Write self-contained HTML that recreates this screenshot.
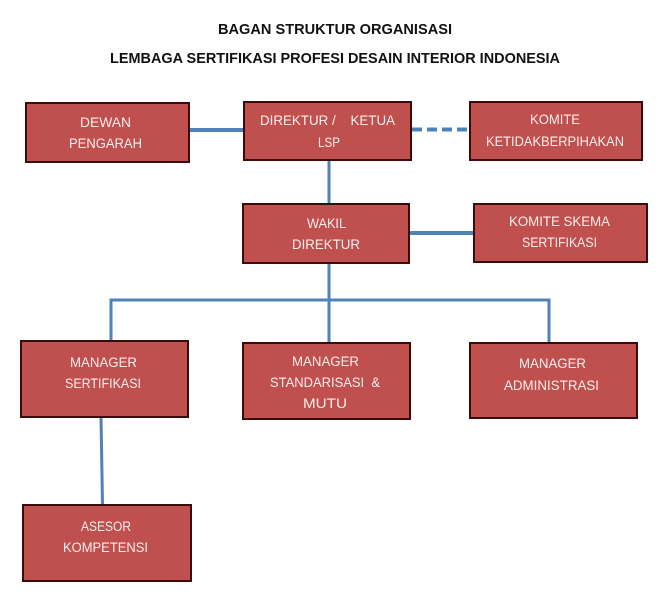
<!DOCTYPE html>
<html>
<head>
<meta charset="utf-8">
<style>
  html, body { margin: 0; padding: 0; background: #ffffff; }
  body { width: 666px; height: 596px; overflow: hidden; }
  svg { display: block; }
  .t { font-family: "Liberation Sans", sans-serif; font-weight: bold; font-size: 15px; fill: #111111; }
  .b { font-family: "Liberation Sans", sans-serif; font-size: 13.5px; fill: #fbeeee; }
  .pre { white-space: pre; }
  .box { fill: #c0504d; stroke: #3a0d0c; stroke-width: 2; }
  .ln { stroke: #4f81bd; fill: none; }
</style>
</head>
<body>
<svg width="666" height="596" viewBox="0 0 666 596" xmlns="http://www.w3.org/2000/svg">
  <!-- Titles -->
  <text class="t" x="218" y="34" textLength="234" lengthAdjust="spacingAndGlyphs">BAGAN STRUKTUR ORGANISASI</text>
  <text class="t" x="110" y="63" textLength="450" lengthAdjust="spacingAndGlyphs">LEMBAGA SERTIFIKASI PROFESI DESAIN INTERIOR INDONESIA</text>

  <!-- Connectors -->
  <line class="ln" x1="189" y1="130" x2="244" y2="130" stroke-width="4"/>
  <line class="ln" x1="412" y1="129.5" x2="470" y2="129.5" stroke-width="4" stroke-dasharray="10 5"/>
  <line class="ln" x1="329" y1="160" x2="329" y2="204" stroke-width="3"/>
  <line class="ln" x1="409" y1="233" x2="474" y2="233" stroke-width="4"/>
  <line class="ln" x1="329" y1="263" x2="329" y2="343" stroke-width="3"/>
  <polyline class="ln" points="111,341 111,300 549,300 549,343" stroke-width="3"/>
  <line class="ln" x1="101" y1="417" x2="102.5" y2="505" stroke-width="3"/>

  <!-- Boxes -->
  <rect class="box" x="26" y="103" width="163" height="59"/>
  <rect class="box" x="244" y="102" width="167" height="58"/>
  <rect class="box" x="470" y="102" width="172" height="58"/>
  <rect class="box" x="243" y="204" width="166" height="59"/>
  <rect class="box" x="474" y="204" width="173" height="58"/>
  <rect class="box" x="21" y="341" width="167" height="76"/>
  <rect class="box" x="243" y="343" width="167" height="76"/>
  <rect class="box" x="470" y="343" width="167" height="75"/>
  <rect class="box" x="23" y="505" width="168" height="76"/>

  <!-- Box labels -->
  <text class="b" x="80" y="127" textLength="51" lengthAdjust="spacingAndGlyphs">DEWAN</text>
  <text class="b" x="69" y="148" textLength="73" lengthAdjust="spacingAndGlyphs">PENGARAH</text>

  <text class="b pre" xml:space="preserve" x="260" y="125" textLength="135" lengthAdjust="spacingAndGlyphs">DIREKTUR /    KETUA</text>
  <text class="b" x="318" y="147" textLength="22" lengthAdjust="spacingAndGlyphs">LSP</text>

  <text class="b" x="530" y="124" textLength="50" lengthAdjust="spacingAndGlyphs">KOMITE</text>
  <text class="b" x="486" y="146" textLength="138" lengthAdjust="spacingAndGlyphs">KETIDAKBERPIHAKAN</text>

  <text class="b" x="307" y="228" textLength="39" lengthAdjust="spacingAndGlyphs">WAKIL</text>
  <text class="b" x="292" y="249" textLength="68" lengthAdjust="spacingAndGlyphs">DIREKTUR</text>

  <text class="b" x="509" y="226" textLength="101" lengthAdjust="spacingAndGlyphs">KOMITE SKEMA</text>
  <text class="b" x="522" y="247" textLength="75" lengthAdjust="spacingAndGlyphs">SERTIFIKASI</text>

  <text class="b" x="70" y="367" textLength="67" lengthAdjust="spacingAndGlyphs">MANAGER</text>
  <text class="b" x="65" y="388" textLength="76" lengthAdjust="spacingAndGlyphs">SERTIFIKASI</text>

  <text class="b" x="292" y="366" textLength="67" lengthAdjust="spacingAndGlyphs">MANAGER</text>
  <text class="b pre" xml:space="preserve" x="270" y="387" textLength="110" lengthAdjust="spacingAndGlyphs">STANDARISASI  &amp;</text>
  <text class="b" x="303" y="408" textLength="44" lengthAdjust="spacingAndGlyphs">MUTU</text>

  <text class="b" x="519" y="368" textLength="67" lengthAdjust="spacingAndGlyphs">MANAGER</text>
  <text class="b" x="504" y="390" textLength="95" lengthAdjust="spacingAndGlyphs">ADMINISTRASI</text>

  <text class="b" x="81" y="531" textLength="50" lengthAdjust="spacingAndGlyphs">ASESOR</text>
  <text class="b" x="63" y="552" textLength="85" lengthAdjust="spacingAndGlyphs">KOMPETENSI</text>
</svg>
</body>
</html>
